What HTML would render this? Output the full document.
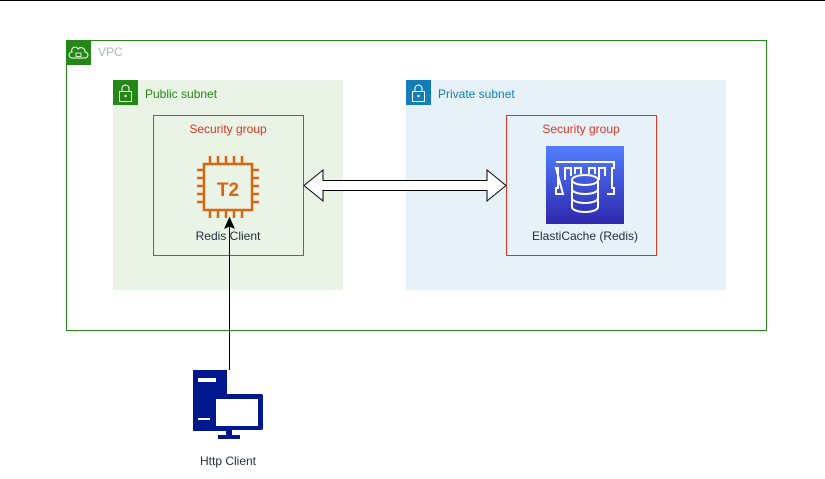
<!DOCTYPE html>
<html><head><meta charset="utf-8"><style>
body{margin:0;width:825px;height:474px;overflow:hidden;background:#fff;font-family:"Liberation Sans",sans-serif;}
</style></head><body>
<svg width="825" height="474" viewBox="0 0 825 474" xmlns="http://www.w3.org/2000/svg" font-family="Liberation Sans, sans-serif">
<line x1="0" y1="0.5" x2="825" y2="0.5" stroke="#000"/>
<!-- VPC -->
<rect x="66.5" y="40.5" width="700" height="290" fill="none" stroke="#248814"/>
<rect x="66" y="40" width="25" height="25" fill="#248814"/>
<path d="M72 58 h13 a3 3 0 0 0 0-6 a4 4 0 0 0-7-3 a3 3 0 0 0-6 3 a3 3 0 0 0 0 6z" fill="none" stroke="#fff" stroke-width="1"/>
<rect x="76" y="53" width="5" height="3.5" fill="none" stroke="#fff" stroke-width="0.8"/>
<text x="98" y="56" font-size="12" fill="#aab7b8">VPC</text>
<!-- Public subnet -->
<rect x="113" y="80" width="230" height="210" fill="#e9f3e6"/>
<rect x="113" y="80" width="25" height="25" fill="#248814"/>
<rect x="119.5" y="91.5" width="12" height="10" fill="none" stroke="#fff"/>
<path d="M122 91.5 v-3 a3.5 3.5 0 0 1 7 0 v3" fill="none" stroke="#fff"/>
<circle cx="125.5" cy="96" r="1.2" fill="#fff"/>
<text x="145" y="98" font-size="12" fill="#248814">Public subnet</text>
<rect x="153.5" y="115.5" width="150" height="140" fill="none" stroke="#dd3522"/>
<text x="228" y="133" font-size="12" fill="#dd3522" text-anchor="middle">Security group</text>
<!-- T2 chip -->
<g stroke="#d86613" stroke-width="2.5" fill="none">
<rect x="204" y="164" width="48" height="46"/>
<path d="M210 164v-8M218 164v-8M226 164v-8M234 164v-8M242 164v-8M210 210v8M218 210v8M226 210v8M234 210v8M242 210v8M204 170h-7M204 178h-7M204 186h-7M204 194h-7M204 202h-7M252 170h7M252 178h7M252 186h7M252 194h7M252 202h7"/>
</g>
<text x="228" y="196" font-size="19" font-weight="bold" fill="#d86613" text-anchor="middle">T2</text>
<text x="228" y="240" font-size="12" fill="#232f3e" text-anchor="middle">Redis Client</text>
<!-- Private subnet -->
<rect x="406" y="80" width="320" height="210" fill="#e6f2f8"/>
<rect x="406" y="80" width="25" height="25" fill="#147eba"/>
<rect x="412.5" y="91.5" width="12" height="10" fill="none" stroke="#fff"/>
<path d="M415 91.5 v-3 a3.5 3.5 0 0 1 7 0 v3" fill="none" stroke="#fff"/>
<circle cx="418.5" cy="96" r="1.2" fill="#fff"/>
<text x="438" y="98" font-size="12" fill="#147eba">Private subnet</text>
<rect x="506.5" y="115.5" width="150" height="140" fill="none" stroke="#dd3522"/>
<text x="581" y="133" font-size="12" fill="#dd3522" text-anchor="middle">Security group</text>
<defs><linearGradient id="g" x1="0" y1="1" x2="0" y2="0"><stop offset="0" stop-color="#2e27ad"/><stop offset="1" stop-color="#527fff"/></linearGradient></defs>
<rect x="546" y="146" width="78" height="78" fill="url(#g)"/>
<g stroke="#fff" stroke-width="2" fill="none">
<path d="M556 162h58v6h-2v20h2v6h-7M563 194h-7v-6h2v-20h-2z"/>
<path d="M565 180v-12h6v8M575 174v-6h6v6M589 174v-6h6v6M599 180v-12h6v8"/>
<ellipse cx="585" cy="180" rx="13" ry="5"/>
<path d="M572 180v27a13 5 0 0 0 26 0v-27M572 189a13 5 0 0 0 26 0M572 198a13 5 0 0 0 26 0"/>
</g>
<text x="585" y="240" font-size="12" fill="#232f3e" text-anchor="middle">ElastiCache (Redis)</text>
<!-- double arrow -->
<path d="M304 185.5 L323 170 V180.5 H487 V170 L506 185.5 L487 201 V190.5 H323 V201 Z" fill="#fff" stroke="#000" stroke-width="1"/>
<!-- vertical arrow -->
<line x1="229.5" y1="370" x2="229.5" y2="226" stroke="#000"/>
<path d="M229.5 218 L225 228 L229.5 226 L234 228Z" fill="#000" stroke="#000"/>
<!-- Http client -->
<g fill="#00188d">
<path d="M193 370h34v26h-12v6h-2v27h14v2h-34z"/>
<rect x="211" y="394" width="52" height="36" rx="2"/>
<rect x="226" y="430" width="6" height="6"/>
<rect x="218" y="435" width="22" height="4"/>
</g>
<rect x="198" y="378" width="18" height="4" fill="#fff"/>
<rect x="216" y="399" width="42" height="27" fill="#fff"/>
<rect x="198" y="418" width="12" height="2" fill="#fff"/>
<text x="228" y="465" font-size="12" fill="#232f3e" text-anchor="middle">Http Client</text>
</svg>
</body></html>
